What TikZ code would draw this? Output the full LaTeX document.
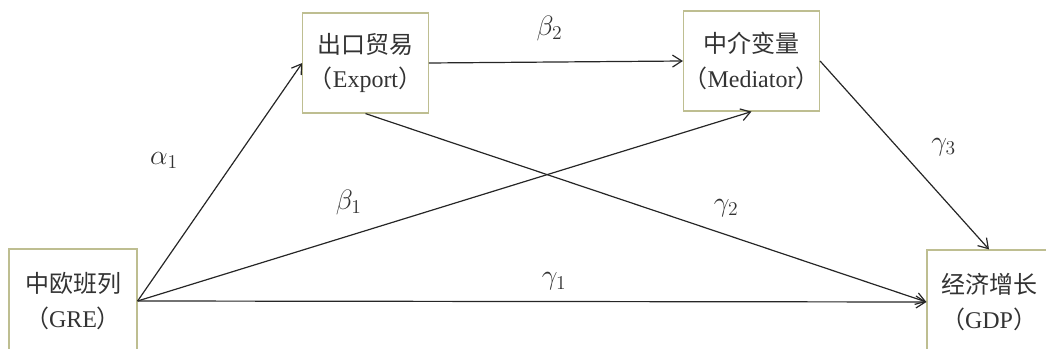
\documentclass[tikz,border=0pt]{standalone}
\usepackage{fix-cm}
\usepackage{fontspec}
\setmainfont{Liberation Serif}
\newfontfamily\cjk{Noto Sans CJK SC}
\usetikzlibrary{arrows.meta}
\definecolor{boxline}{RGB}{190,190,145}

\begin{document}
\begin{tikzpicture}[
    x=0.75pt, y=-0.75pt,
    >={Straight Barb[length=7pt,width=9pt]},
    every node/.style={align=center, text=black!80},
    varbox/.style={draw=boxline, line width=0.9pt, inner sep=0pt, minimum width=94pt, minimum height=75pt, font=\fontsize{18}{26}\selectfont},
    link/.style={->, line width=0.9pt, draw=black!85},
    coef/.style={font=\fontsize{21}{24}\selectfont}
]
\useasboundingbox (0,0) rectangle (1046,349);
\clip (0,0) rectangle (1046,349);

\node[varbox, minimum width=96pt, minimum height=78pt] (gre) at (73,301) {{\cjk 中欧班列}\\{\cjk （}GRE{\cjk ）}};
\node[varbox] (export) at (365.5,63) {{\cjk 出口贸易}\\{\cjk （}Export{\cjk ）}};
\node[varbox] (mediator) at (751.5,61) {{\cjk 中介变量}\\{\cjk （}Mediator{\cjk ）}};
\node[varbox, minimum width=93pt, minimum height=78pt] (gdp) at (989,302) {{\cjk 经济增长}\\{\cjk （}GDP{\cjk ）}};

\draw[link] (gre.east) -- node[coef, pos=0.59, xshift=-53pt]{\(\alpha_1\)} (export.west);
\draw[link] (export.east) -- node[coef, pos=0.475, yshift=25pt]{\(\beta_2\)} (mediator.west);
\draw[link] (gre.east) -- node[coef, pos=0.344, yshift=25pt]{\(\beta_1\)} (mediator.south);
\draw[link] (export.south) -- node[coef, pos=0.643, yshift=20pt]{\(\gamma_2\)} (gdp.west);
\draw[link] (gre.east) -- node[coef, pos=0.528, yshift=15pt]{\(\gamma_1\)} (gdp.west);
\draw[link] (mediator.east) -- node[coef, pos=0.455, xshift=35pt]{\(\gamma_3\)} (gdp.north);

\end{tikzpicture}
\end{document}
